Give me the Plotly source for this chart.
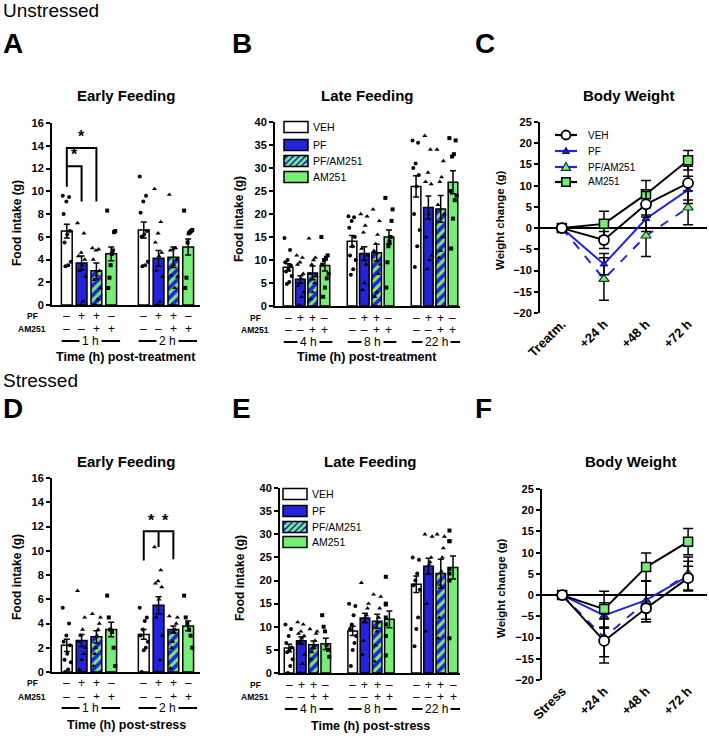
import plotly.graph_objects as go

W, H = 709, 736
FONT = "Liberation Sans, Arial, sans-serif"
BLUE = "#2323dc"
GREEN = "#74ee74"
GROUP_STEP = 5.2


def fx(p):
    return p / W


def fy(p):
    return 1 - p / H


TREATMENTS = ["VEH", "PF", "PF/AM251", "AM251"]
PF_SIGNS = ["–", "+", "+", "–"]
AM251_SIGNS = ["–", "–", "+", "+"]

# ---------------- Panel A: Unstressed, early feeding ----------------
A_GROUPS = ["1 h", "2 h"]
A_MEAN = {"VEH": [6.5, 6.6], "PF": [3.7, 4.1], "PF/AM251": [3.0, 4.2], "AM251": [4.5, 5.1]}
A_SEM = {"VEH": [0.6, 0.7], "PF": [0.6, 0.7], "PF/AM251": [0.7, 0.9], "AM251": [0.6, 0.7]}
A_PTS = {
    "VEH": [[9.6, 9.5, 9.1, 8.0, 6.5, 6.2, 5.5, 3.8, 3.5, 3.4],
            [11.3, 9.6, 9.1, 8.1, 6.5, 6.2, 6.0, 3.8, 3.5, 3.4]],
    "PF": [[7.2, 6.3, 4.6, 4.3, 4.0, 3.5, 3.0, 2.5, 0.3, 0.0],
           [10.2, 7.3, 6.3, 5.5, 4.6, 4.3, 3.0, 2.5, 0.3, 0.0]],
    "PF/AM251": [[5.0, 4.9, 4.8, 4.0, 3.0, 2.6, 2.2, 1.5, 0.5, 0.0],
                 [9.7, 5.0, 4.9, 4.8, 4.0, 3.5, 2.6, 2.5, 1.5, 0.0]],
    "AM251": [[8.3, 6.5, 6.4, 4.8, 4.5, 3.5, 2.4, 1.5],
              [8.3, 6.6, 6.5, 6.4, 6.3, 5.5, 2.4, 1.5]],
}

# ---------------- Panel B: Unstressed, late feeding ----------------
B_GROUPS = ["4 h", "8 h", "22 h"]
B_MEAN = {"VEH": [8.4, 14.1, 26.0], "PF": [5.8, 11.4, 21.4],
          "PF/AM251": [7.2, 11.6, 21.1], "AM251": [8.8, 15.0, 26.9]}
B_SEM = {"VEH": [0.8, 1.2, 2.3], "PF": [0.8, 1.5, 2.5],
         "PF/AM251": [1.5, 1.8, 2.9], "AM251": [1.2, 1.5, 2.5]}
B_PTS = {
    "VEH": [[14.8, 12.2, 10.0, 9.5, 8.8, 8.0, 7.5, 6.5, 5.2, 4.8],
            [19.5, 19.3, 18.5, 17.0, 15.0, 13.0, 11.0, 10.0, 8.0, 6.8],
            [36.0, 35.5, 31.0, 30.0, 28.5, 26.0, 20.0, 16.5, 13.0, 8.5]],
    "PF": [[11.0, 10.5, 9.5, 9.0, 7.0, 6.0, 4.5, 3.0, 2.0, 0.2],
           [20.0, 19.5, 17.5, 16.0, 12.5, 11.0, 9.0, 5.0, 3.5],
           [37.0, 34.0, 29.0, 27.0, 26.5, 20.0, 15.0, 11.0, 10.0, 8.0]],
    "PF/AM251": [[14.7, 10.5, 10.0, 9.0, 7.0, 6.5, 5.0, 3.0, 1.5],
                 [21.0, 18.5, 15.5, 13.5, 12.0, 9.0, 7.0, 3.0, 2.0],
                 [34.0, 31.5, 28.0, 27.0, 22.0, 20.0, 15.0, 12.0, 10.5]],
    "AM251": [[15.0, 11.0, 10.5, 10.0, 9.0, 7.0, 6.0, 4.0, 2.0],
              [23.5, 21.0, 18.5, 15.0, 14.0, 13.0, 9.5, 4.0],
              [36.5, 36.0, 33.0, 32.5, 25.0, 24.0, 23.0, 19.0, 12.5]],
}

# ---------------- Panel C: Unstressed, body weight ----------------
C_TIMES = ["Treatm.", "+24 h", "+48 h", "+72 h"]
C_MEAN = {"VEH": [0, -2.8, 5.6, 10.6], "PF": [0, -8.5, 2.2, 9.0],
          "PF/AM251": [0, -12.0, -1.8, 4.8], "AM251": [0, 1.0, 8.0, 16.0]}
C_SEM = {"VEH": [0, 2.0, 3.0, 4.0], "PF": [0, 2.5, 3.0, 3.2],
         "PF/AM251": [0, 5.0, 4.9, 4.0], "AM251": [0, 3.0, 3.2, 2.3]}

# ---------------- Panel D: Stressed, early feeding ----------------
D_GROUPS = ["1 h", "2 h"]
D_MEAN = {"VEH": [2.2, 3.1], "PF": [2.6, 5.5], "PF/AM251": [2.9, 3.5], "AM251": [3.5, 3.8]}
D_SEM = {"VEH": [0.5, 0.4], "PF": [0.5, 0.7], "PF/AM251": [0.5, 0.3], "AM251": [0.6, 0.4]}
D_PTS = {
    "VEH": [[5.3, 4.0, 3.0, 2.5, 2.2, 1.5, 1.0, 0.8, 0.2, 0.0],
            [5.3, 4.5, 4.2, 3.5, 3.0, 2.5, 2.0, 1.8, 0.0]],
    "PF": [[6.7, 4.5, 3.5, 3.0, 2.5, 2.0, 1.5, 1.0, 0.2],
           [10.3, 8.4, 7.5, 7.3, 7.0, 6.0, 4.5, 3.0, 1.0, 0.0]],
    "PF/AM251": [[4.8, 4.5, 4.0, 3.5, 3.0, 2.0, 1.5, 0.5],
                 [4.6, 4.5, 4.0, 3.5, 3.3, 2.5, 2.0, 0.3]],
    "AM251": [[6.3, 4.5, 3.5, 3.3, 2.0, 0.5],
              [6.3, 4.5, 4.0, 3.5, 3.0, 2.0]],
}

# ---------------- Panel E: Stressed, late feeding ----------------
E_GROUPS = ["4 h", "8 h", "22 h"]
E_MEAN = {"VEH": [5.4, 9.1, 19.2], "PF": [7.0, 11.9, 23.1],
          "PF/AM251": [6.1, 11.2, 21.5], "AM251": [6.3, 11.6, 22.8]}
E_SEM = {"VEH": [0.8, 1.0, 1.8], "PF": [0.8, 1.0, 1.7],
         "PF/AM251": [0.8, 1.5, 3.1], "AM251": [1.2, 1.8, 2.5]}
E_PTS = {
    "VEH": [[10.5, 9.5, 8.0, 6.5, 5.5, 5.0, 4.5, 3.0, 1.5, 0.0],
            [15.0, 14.5, 12.5, 10.5, 9.5, 8.0, 6.5, 5.0, 1.5],
            [25.0, 24.5, 21.5, 20.0, 19.0, 18.0, 12.0, 9.5, 5.8]],
    "PF": [[11.0, 10.5, 9.0, 8.5, 8.0, 7.5, 6.5, 4.0, 2.0, 0.0],
           [19.5, 15.0, 14.0, 12.5, 12.0, 11.0, 7.0, 4.0],
           [30.0, 29.5, 25.0, 24.0, 23.5, 21.5, 15.0, 9.0]],
    "PF/AM251": [[9.5, 9.0, 8.5, 7.0, 6.0, 5.5, 4.5, 3.0],
                 [17.0, 16.5, 14.0, 12.0, 11.0, 9.0, 6.0, 2.5],
                 [30.0, 29.5, 27.0, 25.0, 22.0, 19.0, 12.0, 7.5]],
    "AM251": [[12.5, 10.0, 9.0, 6.0, 5.0, 3.5],
              [20.8, 15.0, 14.8, 12.0, 10.5, 8.0, 3.8],
              [30.8, 28.5, 28.5, 22.5, 21.5, 20.0, 7.5]],
}

# ---------------- Panel F: Stressed, body weight ----------------
F_TIMES = ["Stress", "+24 h", "+48 h", "+72 h"]
F_MEAN = {"VEH": [0, -10.8, -3.1, 4.0], "PF": [0, -4.8, -1.2, 4.5],
          "PF/AM251": [0, -10.0, -1.5, 5.0], "AM251": [0, -3.3, 6.6, 12.6]}
F_SEM = {"VEH": [0, 5.2, 3.2, 2.8], "PF": [0, 3.0, 4.5, 3.5],
         "PF/AM251": [0, 4.5, 4.8, 4.0], "AM251": [0, 4.2, 3.3, 3.1]}

# ------------------------------------------------------------------
fig = go.Figure()

BAR_STYLE = {
    "VEH": dict(color="white", line=dict(color="black", width=1.5)),
    "PF": dict(color=BLUE, line=dict(color="black", width=1.5)),
    "PF/AM251": dict(color=BLUE, line=dict(color="black", width=1.5),
                     pattern=dict(shape="/", fgcolor=GREEN, bgcolor=BLUE,
                                  size=7, solidity=0.45, fillmode="replace")),
    "AM251": dict(color=GREEN, line=dict(color="black", width=1.5)),
}
DOT_SYMBOL = {"VEH": "circle", "PF": "triangle-up", "PF/AM251": "triangle-up", "AM251": "square"}
DOT_SIZE = {"VEH": 4, "PF": 4.5, "PF/AM251": 4.5, "AM251": 4}


def jitter(i, n, spread):
    if n <= 1:
        return 0.0
    j = (i * 7) % n
    return (j / (n - 1) - 0.5) * spread


def bar_panel(suffix, groups, mean, sem, pts, bw):
    for k, t in enumerate(TREATMENTS):
        xs = [g * GROUP_STEP + k for g in range(len(groups))]
        fig.add_trace(go.Bar(
            x=xs, y=mean[t], width=bw, name=t, marker=BAR_STYLE[t],
            error_y=dict(type="data", array=sem[t], color="black", thickness=1.5, width=3),
            xaxis="x" + suffix, yaxis="y" + suffix, showlegend=False,
        ))
    for k, t in enumerate(TREATMENTS):
        xs, ys = [], []
        for g, vals in enumerate(pts[t]):
            n = len(vals)
            for i, v in enumerate(vals):
                xs.append(g * GROUP_STEP + k + jitter(i, n, bw * 0.75))
                ys.append(v)
        fig.add_trace(go.Scatter(
            x=xs, y=ys, mode="markers",
            marker=dict(color="black", size=DOT_SIZE[t], symbol=DOT_SYMBOL[t]),
            xaxis="x" + suffix, yaxis="y" + suffix, showlegend=False, cliponaxis=False,
        ))


LINE_STYLE = {
    "VEH": dict(line=dict(color="black", width=2),
                marker=dict(symbol="circle", size=10, color="white", line=dict(color="black", width=1.8))),
    "PF": dict(line=dict(color=BLUE, width=2),
               marker=dict(symbol="triangle-up", size=7, color=BLUE, line=dict(color="#10106a", width=1))),
    "PF/AM251": dict(line=dict(color=BLUE, width=2, dash="dash"),
                     marker=dict(symbol="triangle-up", size=9, color=GREEN, line=dict(color="#203030", width=1.2))),
    "AM251": dict(line=dict(color="black", width=2),
                  marker=dict(symbol="square", size=9, color=GREEN, line=dict(color="black", width=1.5))),
}
DRAW_ORDER = ["PF/AM251", "PF", "AM251", "VEH"]


def line_panel(suffix, times, mean, sem):
    for t in DRAW_ORDER:
        fig.add_trace(go.Scatter(
            x=list(range(len(times))), y=mean[t], mode="lines+markers", name=t,
            error_y=dict(type="data", array=sem[t], color="black", thickness=1.5, width=5),
            xaxis="x" + suffix, yaxis="y" + suffix, showlegend=False, cliponaxis=False,
            **LINE_STYLE[t],
        ))


bar_panel("", A_GROUPS, A_MEAN, A_SEM, A_PTS, 0.73)
bar_panel("2", B_GROUPS, B_MEAN, B_SEM, B_PTS, 0.78)
line_panel("3", C_TIMES, C_MEAN, C_SEM)
bar_panel("4", D_GROUPS, D_MEAN, D_SEM, D_PTS, 0.73)
bar_panel("5", E_GROUPS, E_MEAN, E_SEM, E_PTS, 0.78)
line_panel("6", F_TIMES, F_MEAN, F_SEM)

TICKFONT = dict(family=FONT, size=11, color="black", weight="bold")


def bar_x(dom, rng, anchor):
    return dict(domain=[fx(dom[0]), fx(dom[1])], range=rng, showline=True, linecolor="black",
                linewidth=2, showticklabels=False, ticks="", showgrid=False, zeroline=False,
                anchor=anchor, fixedrange=True, automargin=False)


def y_axis(dom, rng, dtick, anchor, zeroline=False):
    return dict(domain=[fy(dom[1]), fy(dom[0])], range=rng, dtick=dtick, showline=True,
                linecolor="black", linewidth=2, ticks="outside", ticklen=4, tickwidth=1.5,
                tickcolor="black", tickfont=TICKFONT, showgrid=False, zeroline=zeroline,
                zerolinecolor="black", zerolinewidth=2, anchor=anchor, fixedrange=True,
                automargin=False)


def line_x(dom, rng, times, anchor):
    return dict(domain=[fx(dom[0]), fx(dom[1])], range=rng, tickvals=list(range(len(times))),
                ticktext=times, tickangle=-45, showline=False, ticks="", showgrid=False,
                zeroline=False, tickfont=dict(family=FONT, size=13, color="black", weight="bold"),
                anchor=anchor, fixedrange=True, automargin=False)


fig.update_layout(
    width=W, height=H, margin=dict(l=0, r=0, t=0, b=0, autoexpand=False),
    paper_bgcolor="white", plot_bgcolor="white", barmode="overlay", showlegend=False,
    font=dict(family=FONT, color="black"),
    xaxis=bar_x((52, 200), [-1.0, 9.0], "y"),
    yaxis=y_axis((123, 305), [0, 16], 2, "x"),
    xaxis2=bar_x((275, 460), [-1.06, 13.97], "y2"),
    yaxis2=y_axis((122, 306), [0, 40], 5, "x2"),
    xaxis3=line_x((540, 707), [-0.52, 3.45], C_TIMES, "y3"),
    yaxis3=y_axis((122, 313), [-20, 25], 5, "x3", zeroline=True),
    xaxis4=bar_x((52, 200), [-1.0, 9.0], "y4"),
    yaxis4=y_axis((478, 672), [0, 16], 2, "x4"),
    xaxis5=bar_x((280, 460), [-0.74, 13.97], "y5"),
    yaxis5=y_axis((488, 673), [0, 40], 5, "x5"),
    xaxis6=line_x((542, 707), [-0.48, 3.45], F_TIMES, "y6"),
    yaxis6=y_axis((489, 680), [-20, 25], 5, "x6", zeroline=True),
)

ann = []
shapes = []


def text(x, y, s, size, bold=False, xanchor="center", xref="paper", bg=None, angle=0):
    d = dict(x=x, y=y, xref=xref, yref="paper", text=s, showarrow=False,
             xanchor=xanchor, yanchor="middle", textangle=angle,
             font=dict(family=FONT, size=size, color="black", weight="bold" if bold else "normal"))
    if bg:
        d.update(bgcolor=bg, borderpad=2)
    ann.append(d)


# section headings and panel letters
text(fx(1), fy(10), "Unstressed", 19, xanchor="left")
text(fx(1), fy(380), "Stressed", 19, xanchor="left")
for letter, xp, yp in [("A", 1, 43), ("B", 230, 43), ("C", 473, 43),
                       ("D", 1, 408), ("E", 230, 408), ("F", 473, 408)]:
    text(fx(xp), fy(yp), letter, 28, bold=True, xanchor="left")

# panel titles
for s, xp, yp in [("Early Feeding", 126, 95), ("Late Feeding", 367, 95), ("Body Weight", 628, 95),
                  ("Early Feeding", 126, 462), ("Late Feeding", 370, 462), ("Body Weight", 630, 462)]:
    text(fx(xp), fy(yp), s, 15, bold=True)

# y-axis titles
for s, xp, yp, sz in [("Food intake (g)", 17, 223, 12), ("Food intake (g)", 239, 219, 12),
                      ("Weight change (g)", 500, 220, 11.5), ("Food intake (g)", 17, 577, 12),
                      ("Food intake (g)", 240, 578, 12), ("Weight change (g)", 501, 588, 11.5)]:
    text(fx(xp), fy(yp), s, sz, bold=True, angle=-90)


def bar_axis_labels(xref, groups, label_x, pf_y, am_y, grp_y, title_y, title_x, title):
    text(fx(label_x), fy(pf_y), "PF", 8.5, bold=True)
    text(fx(label_x), fy(am_y), "AM251", 8.5, bold=True)
    for g, gname in enumerate(groups):
        for k in range(len(TREATMENTS)):
            xv = g * GROUP_STEP + k
            text(xv, fy(pf_y), PF_SIGNS[k], 12, xref=xref)
            text(xv, fy(am_y), AM251_SIGNS[k], 12, xref=xref)
        x0 = g * GROUP_STEP - 0.35
        x1 = g * GROUP_STEP + 3.6
        shapes.append(dict(type="line", xref=xref, yref="paper", x0=x0, x1=x1,
                           y0=fy(grp_y), y1=fy(grp_y), line=dict(color="black", width=2)))
        text((x0 + x1) / 2, fy(grp_y), gname, 12, xref=xref, bg="white")
    text(fx(title_x), fy(title_y), title, 12.5, bold=True)


bar_axis_labels("x", A_GROUPS, 32, 316, 329, 341, 357, 126, "Time (h) post-treatment")
bar_axis_labels("x2", B_GROUPS, 255, 318, 330, 342, 357, 367, "Time (h) post-treatment")
bar_axis_labels("x4", D_GROUPS, 32, 683, 697, 708, 725, 126, "Time (h) post-stress")
bar_axis_labels("x5", E_GROUPS, 255, 685, 697, 709, 726, 370, "Time (h) post-stress")


def path(xref, yref, pts_):
    d = "M " + " L ".join(f"{a},{b}" for a, b in pts_)
    shapes.append(dict(type="path", xref=xref, yref=yref, path=d,
                       line=dict(color="black", width=2)))


def star(xref, yref, x, y):
    ann.append(dict(x=x, y=y, xref=xref, yref=yref, text="*", showarrow=False, yanchor="bottom",
                    font=dict(family=FONT, size=16, color="black", weight="bold")))


# Panel A significance brackets (VEH vs PF, VEH vs PF/AM251 at 1 h)
path("x", "y", [(0, 10.4), (0, 13.8), (2, 13.8), (2, 9.1)])
path("x", "y", [(0, 12.2), (1, 12.2), (1, 9.1)])
star("x", "y", 1, 13.9)
star("x", "y", 0.5, 12.3)

# Panel D significance brackets (PF vs VEH, PF vs PF/AM251 at 2 h)
xd0 = GROUP_STEP
path("x4", "y4", [(xd0, 9.2), (xd0, 11.6), (xd0 + 2, 11.6), (xd0 + 2, 9.3)])
path("x4", "y4", [(xd0 + 1, 11.6), (xd0 + 1, 10.3)])
star("x4", "y4", xd0 + 0.5, 11.6)
star("x4", "y4", xd0 + 1.5, 11.6)


# ---------------- hand-drawn legends (pixel layout) ----------------
def prect(x0, y0, x1, y1, fill, lw=1.5):
    shapes.append(dict(type="rect", xref="paper", yref="paper", x0=fx(x0), x1=fx(x1),
                       y0=fy(y1), y1=fy(y0), fillcolor=fill, line=dict(color="black", width=lw)))


def pline(x0, y0, x1, y1, color, width):
    shapes.append(dict(type="line", xref="paper", yref="paper", x0=fx(x0), x1=fx(x1),
                       y0=fy(y0), y1=fy(y1), line=dict(color=color, width=width)))


def bar_legend(xb, rows):
    for t, yc in zip(TREATMENTS, rows):
        x0, x1, y0, y1 = xb, xb + 24, yc - 5.5, yc + 5.5
        if t == "PF/AM251":
            prect(x0, y0, x1, y1, BLUE, lw=0)
            h = y1 - y0
            c = x0 - h + 1
            while c < x1:
                sx, sy = c, y1
                ex, ey = c + h, y0
                if sx < x0 + 0.8:
                    sy = y1 - (x0 + 0.8 - sx)
                    sx = x0 + 0.8
                if ex > x1 - 0.8:
                    ey = y0 + (ex - (x1 - 0.8))
                    ex = x1 - 0.8
                if ex > sx:
                    pline(sx, sy, ex, ey, GREEN, 2.6)
                c += 6
            prect(x0, y0, x1, y1, "rgba(0,0,0,0)")
        else:
            prect(x0, y0, x1, y1, BAR_STYLE[t]["color"])
        text(fx(xb + 27), fy(yc), t, 10.5, xanchor="left")


bar_legend(284, [127, 145, 161, 177])
bar_legend(283, [494, 511, 527, 542])

# line legend of panel C
LEG_C_ROWS = [135, 151, 167, 182]
for t, yc in zip(TREATMENTS, LEG_C_ROWS):
    st = LINE_STYLE[t]
    pline(555, yc, 577, yc, st["line"]["color"], 2.2)
    m = st["marker"]
    cx = 566
    if t == "VEH":
        shapes.append(dict(type="circle", xref="paper", yref="paper", x0=fx(cx - 4.5), x1=fx(cx + 4.5),
                           y0=fy(yc + 4.5), y1=fy(yc - 4.5), fillcolor="white",
                           line=dict(color="black", width=1.8)))
    elif t == "AM251":
        shapes.append(dict(type="rect", xref="paper", yref="paper", x0=fx(cx - 4.2), x1=fx(cx + 4.2),
                           y0=fy(yc + 4.2), y1=fy(yc - 4.2), fillcolor=GREEN,
                           line=dict(color="black", width=1.5)))
    else:
        r = 3.2 if t == "PF" else 4.6
        p = (f"M {fx(cx - r)},{fy(yc + r * 0.75)} L {fx(cx + r)},{fy(yc + r * 0.75)} "
             f"L {fx(cx)},{fy(yc - r)} Z")
        shapes.append(dict(type="path", xref="paper", yref="paper", path=p, fillcolor=m["color"],
                           line=dict(color=m["line"]["color"], width=1.2)))
    text(fx(586), fy(yc), t, 10, xanchor="left")

fig.update_layout(annotations=ann, shapes=shapes)
fig.write_html("out.html", config={"displayModeBar": False},
               post_script="document.body.style.margin='0px';")
